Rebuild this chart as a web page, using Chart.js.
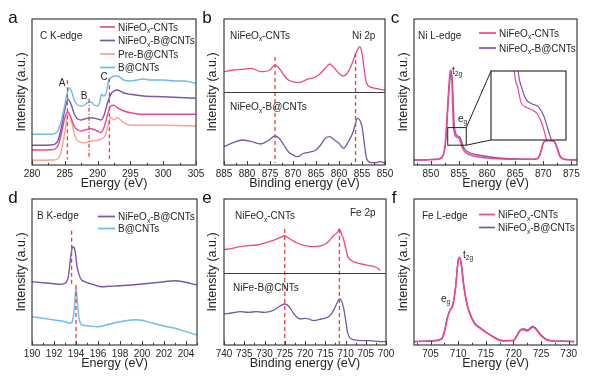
<!DOCTYPE html>
<html><head><meta charset="utf-8">
<script src="https://cdn.jsdelivr.net/npm/chart.js@4.4.0/dist/chart.umd.min.js"></script>
<style>
html,body{margin:0;padding:0;background:#fff;}
#wrap{position:relative;width:589px;height:380px;overflow:hidden;background:#fff;}
#wrap canvas{position:absolute;left:0;top:0;}
</style></head><body><div id="wrap"></div>
<script>
// ---------------- DATA ----------------
// (a) C K-edge  [energy eV, intensity a.u.]
const cK_NiFeOx_CNTs = [[280,15],[283,15.3],[283.5,16],[284,20],[284.5,32],[285,47],[285.5,53],[286,46],[286.5,38],[287,35],[287.5,34],[288,35],[289,36.3],[290,34],[290.5,32.3],[291,38],[291.5,50],[292,59],[292.5,59.7],[293,57.3],[294,54],[295,52.3],[297,50.7],[300,50.7],[305,50.7]];
const cK_NiFeOx_B_CNTs = [[280,19.7],[283,20],[283.5,21],[284,25],[284.5,38],[285,55],[285.5,65.7],[286,60],[286.5,50],[287,46],[287.5,45],[288,46],[289,47.3],[290,46],[290.5,45],[291,50],[291.5,62],[292,70.7],[292.5,74],[293,75],[294,72],[295,70.7],[297,69],[300,68.3],[305,66.7]];
const cK_PreB_CNTs = [[280,4.7],[283,5],[283.8,5.7],[284.3,10],[284.8,25],[285.3,45],[285.6,52.3],[286,44],[286.5,30],[287,24],[288,22.3],[289,24],[290.5,25.7],[291.2,30],[291.6,40],[292,47.3],[292.5,45],[293,47.3],[294,42.3],[295,39.7],[300,39.7],[305,39]];
const cK_B_CNTs = [[280,30.7],[283,30.7],[283.5,31.5],[284,35],[284.5,45],[285,60],[285.3,70],[285.7,77.3],[286,74],[286.5,64],[287,60],[287.5,59],[288,60],[288.5,62.5],[289,63],[289.5,60],[290,59],[290.3,62],[290.6,70.7],[290.9,69],[291.3,72],[291.7,85],[292,87.3],[292.5,89],[293,89],[294,85],[295,84],[296,85],[297,86],[298,85],[300,85],[302,84],[303,84],[305,81.7]];
const cK_markers = [[285.4,84.7,5.7],[288.7,66.3,6.3],[291.8,86.7,6.3]]; // A, B, C  [x, yTop, yBottom]
const cK_ticks = [280,285,290,295,300,305];

// (b) Ni 2p XPS
const ni2p_NiFeOx_CNTs = [[885,93.3],[883,95],[881,95.7],[879,96.7],[877,93.3],[875,95],[874,100],[873,96.7],[872,90],[871,85],[870,83.3],[869,82.3],[868,83.3],[867,85.7],[866,86.7],[865,88.3],[864,91.7],[863,96.7],[862,101],[861,96.7],[860,91.7],[859,89],[858,93.3],[857,103.3],[856.5,110],[856,115],[855.5,118.3],[855,111.7],[854.5,95],[854,81.7],[853,77.7],[852,76.7],[851,75.7],[850,75]];
const ni2p_NiFeOx_B_CNTs = [[885,18.3],[883,22.3],[881,25],[879,23.3],[877,21],[875,25.7],[874,29],[873,26.7],[872,20],[871,13.3],[870,10],[869,8.3],[868,11],[867,12.3],[866,13.3],[865,15],[864,20],[863,26.7],[862,28.3],[861,25],[860,21.7],[859,16.7],[858,23.3],[857,32.3],[856.5,40],[856,46.7],[855.5,45],[855,38.3],[854.5,21.7],[854,6.7],[853,2.3],[852,2.3],[851,3.3],[850,1.7]];
const ni2p_markers = [873.9,856.4];
const ni2p_divider = 73.3;
const ni2p_ticks = [885,880,875,870,865,860,855,850];

// (c) Ni L-edge
const niL_NiFeOx_CNTs = [[847,5],[849,5],[851,5.5],[852,7.5],[852.5,19],[852.8,40],[853.1,70],[853.4,92],[853.55,95],[853.75,85],[853.9,55],[854.03,37.4],[854.18,33.2],[854.32,29.4],[854.53,28.2],[854.81,27.5],[855.03,26.5],[855.24,24],[855.45,19.8],[855.7,16],[856,13.5],[856.5,11.5],[857,10],[858,8.5],[860,7],[862,6.2],[865,5.7],[868,5.7],[869,6.5],[869.5,12],[870,22],[870.5,24.5],[871,24.5],[871.5,24],[872,23],[872.5,16],[873,8],[874,5.5],[876,5]];
const niL_NiFeOx_B_CNTs = [[847,5],[849,5.2],[851,5.8],[852,8],[852.5,17],[852.8,35],[853.1,65],[853.45,88],[853.65,92],[853.85,82],[854,58],[854.2,37.4],[854.35,33.2],[854.53,30.3],[854.81,29],[855.1,28.2],[855.31,26.1],[855.66,19.8],[856,16],[856.5,13.5],[857,12],[858,10.5],[860,8.5],[862,7],[865,6],[868,5.7],[869,6.5],[869.5,12],[870,22],[870.5,24],[871,24.5],[871.5,24.5],[872,23.5],[872.5,17],[873,9],[874,5.5],[876,5]];
const niL_ticks = [850,855,860,865,870,875];
const niL_insetX = [853.0,856.3];
const niL_insetY = [19.8,37.4];

// (d) B K-edge
const bK_NiFeOx_B_CNTs = [[190,63.3],[191,62.3],[192,61.3],[192.5,60.7],[193,61.7],[193.3,68.3],[193.5,86.7],[193.7,98.3],[193.9,95],[194.1,78.3],[194.4,66.7],[194.8,63.3],[195.5,60.7],[196.3,58.3],[197,58.7],[198,59.3],[200,61],[202,63.3],[203,64.3],[204,62.7],[205,60]];
const bK_B_CNTs = [[190,28.3],[191,26.7],[192,25],[193,23.3],[193.5,21.7],[193.7,25],[193.85,36.7],[194,56.7],[194.15,40],[194.3,25],[194.6,20],[195,19.3],[196,18.3],[197,20.7],[198,23.3],[199,25],[199.5,25.3],[200,24.7],[201,21.7],[202,19],[203,16.7],[204,13.3],[205,10]];
const bK_markers = [[193.6,114.3,60],[194.0,60,0]];
const bK_ticks = [190,192,194,196,198,200,202,204];

// (e) Fe 2p XPS
const fe2p_NiFeOx_CNTs = [[740,95.3],[738,96.7],[736,98.3],[734,99.3],[732,100],[730,102],[728,104.3],[726,107.7],[725,109.3],[724,106.7],[723,104.3],[722,102],[720,99.3],[718,98.3],[716,99.3],[715,101],[714,104.3],[713,109.3],[712,112.7],[711.5,116],[711,111],[710.5,106],[710,97.7],[709.5,89.3],[709,86],[708,83.3],[706,81],[704,79.3],[702,76.7],[701.5,74.3]];
const fe2p_NiFe_B_CNTs = [[740,31],[738,32],[736,33.3],[734,32.7],[732,33.3],[730,32.7],[728,34.3],[726,39.3],[725,41],[724,38.7],[723,32.7],[722,27.7],[721,26],[720,26.7],[719,26],[718,24.3],[716,26],[714,28.7],[713,34.3],[712,42.7],[711.5,46],[711,44.3],[710.5,37.7],[710,26],[709.5,12.7],[709,7.7],[708,5.3],[706,4.3],[704,4.3],[702,3.7],[700,3.3]];
const fe2p_markers = [725,711.5];
const fe2p_divider = 72;
const fe2p_ticks = [740,735,730,725,720,715,710,705,700];

// (f) Fe L-edge
const feL_NiFeOx_CNTs = [[702,3.3],[704,3.7],[706,4.3],[707,6],[707.5,12.7],[708,26],[708.5,34.3],[709,39.3],[709.5,56],[710,84.3],[710.2,87.7],[710.5,82.7],[711,59.3],[711.5,42.7],[712,32.7],[713,21],[714,16.7],[715,12.7],[716,9.3],[717,6],[718,4],[719,4.3],[720,4.3],[720.5,7.7],[721,12.7],[721.5,15.3],[722,15],[722.5,14],[723,16],[723.5,17.7],[724,16],[725,9.3],[726,5.3],[727,4],[729,3.7],[731,3.3]];
const feL_NiFeOx_B_CNTs = [[702,3.5],[704,3.9],[706,4.6],[707,6.5],[707.5,13.5],[708,27],[708.5,35],[709,40],[709.5,57],[710,85],[710.2,87],[710.5,83.5],[711,60.5],[711.5,43.5],[712,33.5],[713,21.8],[714,17.2],[715,13],[716,9.6],[717,6.3],[718,4.3],[719,4.5],[720,4.6],[720.5,8.2],[721,13.5],[721.5,16.2],[722,16],[722.5,15],[723,17],[723.5,18.7],[724,17],[725,10],[726,5.6],[727,4.2],[729,3.8],[731,3.5]];
const feL_ticks = [705,710,715,720,725,730];

// ---------------- RENDER ----------------
const W = 589, H = 380;
const FONT = '"Liberation Sans", Arial, sans-serif';
const COL = {pink:'#EE4690', purple:'#7B57A8', salmon:'#F6A58E', blue:'#6CBCE9', red:'#E8413C', axis:'#3c3c3c', text:'#262626'};
const wrap = document.getElementById('wrap');
const pts = a => a.map(p => ({x:p[0], y:p[1]}));

function richText(ctx, str, x, y, size, align){
  const parts=[]; const re=/_\{([^}]*)\}/g; let last=0, m;
  while((m=re.exec(str))){ if(m.index>last) parts.push([str.slice(last,m.index),0]); parts.push([m[1],1]); last=re.lastIndex; }
  if(last<str.length) parts.push([str.slice(last),0]);
  const sub = size*0.66;
  let total=0;
  for(const [t,s] of parts){ ctx.font=(s?sub:size)+'px '+FONT; total+=ctx.measureText(t).width; }
  let cx = align==='center' ? x-total/2 : (align==='right' ? x-total : x);
  ctx.textAlign='left'; ctx.textBaseline='alphabetic';
  for(const [t,s] of parts){ ctx.font=(s?sub:size)+'px '+FONT; ctx.fillText(t,cx,y+(s?size*0.28:0)); cx+=ctx.measureText(t).width; }
}
function txt(ctx,str,x,cy,size,align,color){ ctx.fillStyle=color||COL.text; richText(ctx,str,x,cy+size*0.36,size,align||'left'); }
function legendRow(ctx,color,x0,x1,cy,str,size){
  ctx.save(); ctx.strokeStyle=color; ctx.lineWidth=1.7; ctx.setLineDash([]);
  ctx.beginPath(); ctx.moveTo(x0,cy); ctx.lineTo(x1,cy); ctx.stroke(); ctx.restore();
  txt(ctx,str,x1+3,cy,size);
}
function curve(data,color,w){ return {data:pts(data), borderColor:color, borderWidth:w||1.4, pointRadius:0, fill:false, cubicInterpolationMode:'monotone'}; }
function vline(x,y0,y1,dash){ return {data:[{x:x,y:y0},{x:x,y:y1}], borderColor:COL.red, borderWidth:1.3, borderDash:dash||[4,3], pointRadius:0, fill:false}; }

function makePanel(d){
  const cv=document.createElement('canvas'); cv.width=W; cv.height=H; wrap.appendChild(cv);
  const [L,T,R,B]=d.box;
  const lh=15;
  const padLeft=d.yTitleX-lh/2;
  const xAxisH=d.xTitleY+lh/2-B;
  const step=d.minor;
  new Chart(cv,{
    type:'line',
    data:{datasets:d.datasets},
    options:{
      responsive:false, animation:false, events:[],
      layout:{padding:{left:padLeft, top:T, right:W-R, bottom:H-(d.xTitleY+lh/2)}},
      plugins:{legend:{display:false}, tooltip:{enabled:false}},
      scales:{
        x:{type:'linear', min:d.xMin, max:d.xMax, reverse:!!d.reverse,
          grid:{display:false, drawTicks:false}, border:{display:false},
          ticks:{padding:3, color:COL.text, font:{family:FONT,size:10}, maxRotation:0, autoSkip:false},
          afterBuildTicks:s=>{ s.ticks=d.ticks.map(v=>({value:v})); },
          afterFit:s=>{ s.height=xAxisH; },
          title:{display:true, text:d.xTitle, color:COL.text, font:{family:FONT,size:12.5,lineHeight:1.2}, padding:0}},
        y:{type:'linear', min:0, max:146,
          grid:{display:false, drawTicks:false}, border:{display:false}, ticks:{display:false},
          afterFit:s=>{ s.width=L-padLeft; },
          title:{display:true, text:'Intensity (a.u.)', color:COL.text, font:{family:FONT,size:12.5,lineHeight:1.2}, padding:0}}
      }
    },
    plugins:[{id:'deco', afterDraw(ch){
      const ctx=ch.ctx, a=ch.chartArea, xs=ch.scales.x, ys=ch.scales.y;
      ctx.save();
      ctx.strokeStyle=COL.axis; ctx.lineWidth=1.2; ctx.setLineDash([]);
      ctx.strokeRect(a.left,a.top,a.right-a.left,a.bottom-a.top);
      ctx.lineWidth=1;
      const lo=Math.min(d.xMin,d.xMax), hi=Math.max(d.xMin,d.xMax);
      for(let v=Math.ceil(lo/step)*step; v<=hi+1e-9; v+=step){
        const vv=Math.round(v*1000)/1000;
        const major=d.ticks.some(t=>Math.abs(t-vv)<1e-6);
        const px=Math.round(xs.getPixelForValue(vv))+0.5;
        ctx.beginPath(); ctx.moveTo(px,a.bottom); ctx.lineTo(px,a.bottom-(major?4:2.2)); ctx.stroke();
      }
      if(d.divider!==undefined){
        const py=Math.round(ys.getPixelForValue(d.divider))+0.5;
        ctx.lineWidth=1.2; ctx.beginPath(); ctx.moveTo(a.left,py); ctx.lineTo(a.right,py); ctx.stroke();
      }
      if(d.letter) { ctx.fillStyle='#111'; ctx.font='17px '+FONT; ctx.textAlign='center'; ctx.textBaseline='middle'; ctx.fillText(d.letter[0],d.letter[1],d.letter[2]); }
      if(d.deco) d.deco(ctx,xs,ys,a);
      ctx.restore();
    }}]
  });
}

const TS=10;
// (a)
makePanel({box:[32,19,196,165], yTitleX:22, xTitleY:184, xMin:280, xMax:305, ticks:cK_ticks, minor:2.5, xTitle:'Energy (eV)', letter:['a',13,18],
  datasets:[vline(cK_markers[0][0],cK_markers[0][1],cK_markers[0][2]), vline(cK_markers[1][0],cK_markers[1][1],cK_markers[1][2],[4,2,1,2]), vline(cK_markers[2][0],cK_markers[2][1],cK_markers[2][2]),
    curve(cK_B_CNTs,COL.blue), curve(cK_NiFeOx_B_CNTs,COL.purple), curve(cK_NiFeOx_CNTs,COL.pink), curve(cK_PreB_CNTs,COL.salmon)],
  deco:(ctx)=>{
    txt(ctx,'C K-edge',40,35,TS);
    legendRow(ctx,COL.pink,100,115,27,'NiFeO_{x}-CNTs',TS);
    legendRow(ctx,COL.purple,100,115,40.5,'NiFeO_{x}-B@CNTs',TS);
    legendRow(ctx,COL.salmon,100,115,54,'Pre-B@CNTs',TS);
    legendRow(ctx,COL.blue,100,115,67.5,'B@CNTs',TS);
    txt(ctx,'A',62,82,TS,'center'); txt(ctx,'B',84,95,TS,'center'); txt(ctx,'C',104,76,TS,'center');
  }});
// (b)
makePanel({box:[224,19,385,165], yTitleX:213, xTitleY:184, xMin:850, xMax:885, reverse:true, ticks:ni2p_ticks, minor:2.5, xTitle:'Binding energy (eV)', letter:['b',207,18], divider:ni2p_divider,
  datasets:[vline(ni2p_markers[0],108,2), vline(ni2p_markers[1],112,2), curve(ni2p_NiFeOx_CNTs,COL.pink,1.3), curve(ni2p_NiFeOx_B_CNTs,COL.purple,1.3)],
  deco:(ctx)=>{
    txt(ctx,'NiFeO_{x}-CNTs',230,35,TS);
    txt(ctx,'Ni 2p',352,35,TS);
    txt(ctx,'NiFeO_{x}-B@CNTs',230,106.5,TS);
  }});
// (c)
const INSET_BOX=[491,71,566,140];
makePanel({box:[414,19,577,165], yTitleX:404, xTitleY:184, xMin:847, xMax:876, ticks:niL_ticks, minor:2.5, xTitle:'Energy (eV)', letter:['c',395,18],
  datasets:[curve(niL_NiFeOx_CNTs,COL.pink,1.5), curve(niL_NiFeOx_B_CNTs,COL.purple,1.3)],
  deco:(ctx,xs,ys)=>{
    txt(ctx,'Ni L-edge',418,35,TS);
    legendRow(ctx,COL.pink,479,496,33,'NiFeO_{x}-CNTs',TS);
    legendRow(ctx,COL.purple,479,496,48,'NiFeO_{x}-B@CNTs',TS);
    txt(ctx,'t_{2g}',452,70,TS); txt(ctx,'e_{g}',458,118,TS);
    const x0=xs.getPixelForValue(niL_insetX[0]), x1=xs.getPixelForValue(niL_insetX[1]);
    const y0=ys.getPixelForValue(niL_insetY[1]), y1=ys.getPixelForValue(niL_insetY[0]);
    ctx.strokeStyle='#222'; ctx.lineWidth=1;
    ctx.strokeRect(x0,y0,x1-x0,y1-y0);
    ctx.beginPath(); ctx.moveTo(x1,y0); ctx.lineTo(INSET_BOX[0],INSET_BOX[1]); ctx.moveTo(x1,y1); ctx.lineTo(INSET_BOX[0],INSET_BOX[3]); ctx.stroke();
  }});
// inset of (c)
(function(){
  const cv=document.createElement('canvas'); cv.width=W; cv.height=H; wrap.appendChild(cv);
  const [L,T,R,B]=INSET_BOX;
  new Chart(cv,{type:'line',
    data:{datasets:[curve(niL_NiFeOx_CNTs,COL.pink,1.2), curve(niL_NiFeOx_B_CNTs,COL.purple,1.2)]},
    options:{responsive:false, animation:false, events:[],
      layout:{padding:{left:L,top:T,right:W-R,bottom:H-B}},
      plugins:{legend:{display:false},tooltip:{enabled:false}},
      scales:{x:{type:'linear',display:false,min:niL_insetX[0],max:niL_insetX[1]}, y:{type:'linear',display:false,min:niL_insetY[0],max:niL_insetY[1]}}},
    plugins:[{id:'ibg', beforeDraw(ch){ const a=ch.chartArea, c=ch.ctx; c.save(); c.fillStyle='#fff'; c.fillRect(a.left,a.top,a.right-a.left,a.bottom-a.top); c.restore(); },
      afterDraw(ch){ const a=ch.chartArea, c=ch.ctx; c.save(); c.strokeStyle='#333'; c.lineWidth=1.2; c.strokeRect(a.left,a.top,a.right-a.left,a.bottom-a.top); c.restore(); }}]
  });
})();
// (d)
makePanel({box:[32,199,197,345], yTitleX:22, xTitleY:364, xMin:190, xMax:205, ticks:bK_ticks, minor:1, xTitle:'Energy (eV)', letter:['d',13,198],
  datasets:[vline(bK_markers[0][0],bK_markers[0][1],bK_markers[0][2]), vline(bK_markers[1][0],bK_markers[1][1],bK_markers[1][2]), curve(bK_NiFeOx_B_CNTs,COL.purple), curve(bK_B_CNTs,COL.blue)],
  deco:(ctx)=>{
    txt(ctx,'B K-edge',37,215.5,TS);
    legendRow(ctx,COL.purple,98,115,216.5,'NiFeO_{x}-B@CNTs',TS);
    legendRow(ctx,COL.blue,98,115,228.5,'B@CNTs',TS);
  }});
// (e)
makePanel({box:[224,199,386,345], yTitleX:213, xTitleY:364, xMin:700, xMax:740, reverse:true, ticks:fe2p_ticks, minor:2.5, xTitle:'Binding energy (eV)', letter:['e',207,198], divider:fe2p_divider,
  datasets:[vline(fe2p_markers[0],116,0), vline(fe2p_markers[1],116,0), curve(fe2p_NiFeOx_CNTs,COL.pink,1.3), curve(fe2p_NiFe_B_CNTs,COL.purple,1.3)],
  deco:(ctx)=>{
    txt(ctx,'NiFeO_{x}-CNTs',235,215.5,TS);
    txt(ctx,'Fe 2p',350,212.5,TS);
    txt(ctx,'NiFe-B@CNTs',233,287.5,TS);
  }});
// (f)
makePanel({box:[414,199,577,345], yTitleX:404, xTitleY:364, xMin:702, xMax:731.5, ticks:feL_ticks, minor:2.5, xTitle:'Energy (eV)', letter:['f',394,198],
  datasets:[curve(feL_NiFeOx_CNTs,COL.pink,1.6), curve(feL_NiFeOx_B_CNTs,COL.purple,1.3)],
  deco:(ctx)=>{
    txt(ctx,'Fe L-edge',422,215.5,TS);
    legendRow(ctx,COL.pink,479,495,214.5,'NiFeO_{x}-CNTs',TS);
    legendRow(ctx,COL.purple,479,495,227.5,'NiFeO_{x}-B@CNTs',TS);
    txt(ctx,'t_{2g}',463,254,TS); txt(ctx,'e_{g}',441,298,TS);
  }});
</script></body></html>
